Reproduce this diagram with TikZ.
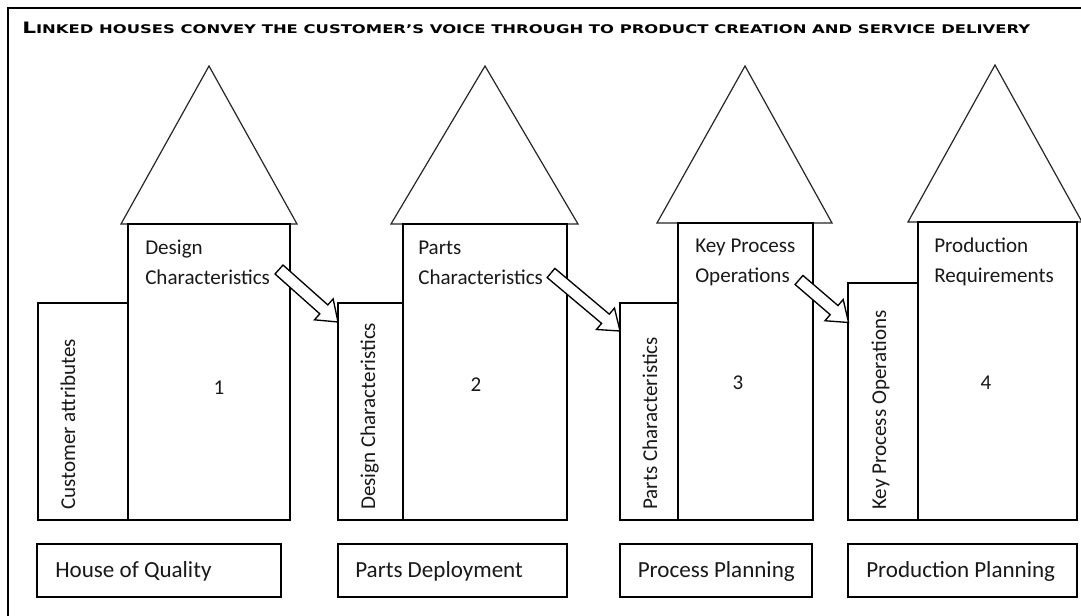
\documentclass[tikz,border=0pt]{standalone}
\usepackage{fontspec}
\setmainfont{Carlito}
\newfontfamily\ttlfont{DejaVu Sans}
\usetikzlibrary{calc}
\newcommand\blockarr[3]{%
  \coordinate (#3) at ($(#2)!14.25pt!(#1)$);
  \draw[blockarrow] ($(#1)!4.5pt!90:(#2)$) -- ($(#3)!4.5pt!-90:(#1)$)
    -- ($(#3)!10.5pt!-90:(#1)$) -- (#2) -- ($(#3)!10.5pt!90:(#1)$)
    -- ($(#3)!4.5pt!90:(#1)$) -- ($(#1)!4.5pt!-90:(#2)$) -- cycle;}
\begin{document}
\begin{tikzpicture}[x=0.75pt,y=-0.75pt,
  box/.style={draw=black, line width=1.5pt, fill=white},
  roof/.style={draw=black!85, line width=0.9pt, fill=white},
  lbl/.style={font=\fontsize{15.8}{19}\selectfont, inner sep=0pt, anchor=base west, text=black!90},
  biglbl/.style={lbl, font=\fontsize{17.3}{20}\selectfont},
  vlbl/.style={lbl, rotate=90},
  num/.style={font=\fontsize{15.8}{19}\selectfont, inner sep=0pt, anchor=base, text=black!90},
  blockarrow/.style={draw=black, line width=1pt, fill=white, line join=miter}
]
\useasboundingbox (0,0) rectangle (1081,616);
\fill[white] (0,0) rectangle (1081,616);
\draw[line width=1.5pt] (8,616) -- (8,8) -- (1081,8);

\node[inner sep=0pt, anchor=base west] (title) at (22,34)
  {\resizebox{756pt}{8.6pt}{\ttlfont\bfseries{\fontsize{12}{12}\selectfont L}{\fontsize{9.1}{9.1}\selectfont INKED HOUSES CONVEY THE CUSTOMER’S VOICE THROUGH TO PRODUCT CREATION AND SERVICE DELIVERY}}};

% House 1
\draw[roof] (121,224) -- (209,66) -- (297,224) -- cycle;
\draw[box] (38,303) rectangle (128,520);
\draw[box] (128,224) rectangle (290,520);
% House 2
\draw[roof] (391,224) -- (485,66) -- (578,224) -- cycle;
\draw[box] (338,303) rectangle (403,520);
\draw[box] (403,224) rectangle (567,520);
% House 3
\draw[roof] (657,223) -- (745,66) -- (832,223) -- cycle;
\draw[box] (620,303) rectangle (678,520);
\draw[box] (678,223) rectangle (813,520);
% House 4
\draw[roof] (908,222) -- (995,65) -- (1082,222) -- cycle;
\draw[box] (848,283) rectangle (918,520);
\draw[box] (918,222) rectangle (1077,520);

% texts in main boxes
\node[lbl] (d1a) at (145,255) {Design};
\node[lbl] (d1b) at (145,285) {Characteristics};
\node[lbl] (d2a) at (418,255) {Parts};
\node[lbl] (d2b) at (418,285) {Characteristics};
\node[lbl] (d3a) at (695,252.7) {Key Process};
\node[lbl] (d3b) at (695,282.7) {Operations};
\node[lbl] (d4a) at (934,252.7) {Production};
\node[lbl] (d4b) at (934,282.7) {Requirements};

\node[num] (n1) at (219,394.5) {1};
\node[num] (n2) at (476,391.5) {2};
\node[num] (n3) at (738,389.5) {3};
\node[num] (n4) at (986,389.5) {4};

% rotated texts
\node[vlbl] (v1) at (75,510) {Customer attributes};
\node[vlbl] (v2) at (375,510) {Design Characteristics};
\node[vlbl] (v3) at (657,510) {Parts Characteristics};
\node[vlbl] (v4) at (886,510) {Key Process Operations};

% block arrows
\coordinate (t1) at (279,269.5); \coordinate (h1) at (338,322);
\coordinate (t2) at (551,273);   \coordinate (h2) at (620,331);
\coordinate (t3) at (799,280);   \coordinate (h3) at (848.5,322.5);
\blockarr{t1}{h1}{b1}
\blockarr{t2}{h2}{b2}
\blockarr{t3}{h3}{b3}

% bottom label boxes
\draw[box] (37,544) rectangle (281,597);
\draw[box] (338,544) rectangle (567,597);
\draw[box] (620,544) rectangle (812,597);
\draw[box] (848,544) rectangle (1077,597);
\node[biglbl] (p1) at (55,577.5) {House of Quality};
\node[biglbl] (p2) at (355,577.5) {Parts Deployment};
\node[biglbl] (p3) at (637.5,577.5) {Process Planning};
\node[biglbl] (p4) at (866,577.5) {Production Planning};
\end{tikzpicture}
\end{document}
